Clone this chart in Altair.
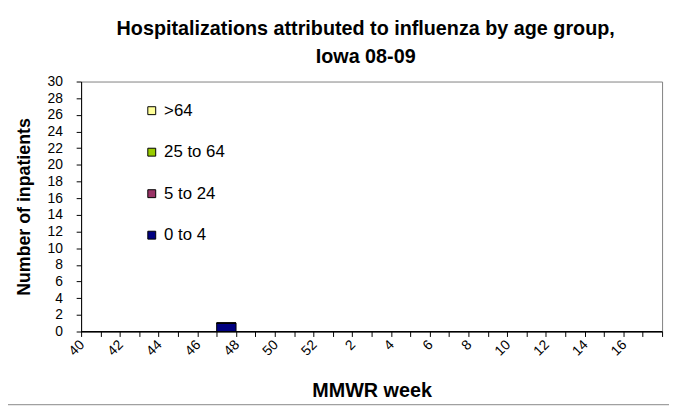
import altair as alt
import pandas as pd

weeks = [str(w) for w in list(range(40, 53)) + list(range(1, 18))]
groups = [">64", "25 to 64", "5 to 24", "0 to 4"]
colors = ["#FFFF99", "#99CC00", "#993366", "#000080"]
# inpatients per week, per age group
age_0_4 = [0, 0, 0, 0, 0, 0, 0, 1, 0, 0, 0, 0, 0, 0, 0,
           0, 0, 0, 0, 0, 0, 0, 0, 0, 0, 0, 0, 0, 0, 0]
age_5_24 = [0] * 30
age_25_64 = [0] * 30
age_65_up = [0] * 30

series = {"0 to 4": age_0_4, "5 to 24": age_5_24, "25 to 64": age_25_64, ">64": age_65_up}
stack_rank = {"0 to 4": 0, "5 to 24": 1, "25 to 64": 2, ">64": 3}
rows = []
for g, vals in series.items():
    for w, v in zip(weeks, vals):
        rows.append({"week": w, "group": g, "count": v, "rank": stack_rank[g]})
df = pd.DataFrame(rows)

font = "Liberation Sans"

bars = alt.Chart(df).mark_bar(stroke="black", strokeWidth=1, width={"band": 1}).encode(
    x=alt.X("week:N", sort=weeks, scale=alt.Scale(paddingInner=0, paddingOuter=0),
            axis=alt.Axis(title="MMWR week", labelAngle=-45, labelAlign="right", labelBaseline="middle",
                          labelExpr="toNumber(datum.value) % 2 == 0 ? datum.value : ''",
                          ticks=True, tickBand="extent", labelOffset=-9, labelPadding=6,
                          labelFontSize=14, titleFontSize=20, titleFontWeight="bold",
                          titlePadding=23, labelOverlap=False)),
    y=alt.Y("count:Q", stack="zero", scale=alt.Scale(domain=[0, 30], nice=False),
            axis=alt.Axis(title="Number of inpatients", values=list(range(0, 31, 2)),
                          ticks=True, labelFontSize=14, labelPadding=14, titleFontSize=18,
                          titleFontWeight="bold", titlePadding=14, grid=False)),
    color=alt.Color("group:N", scale=alt.Scale(domain=groups, range=colors),
                    legend=alt.Legend(title=None, orient="none", legendX=63, legendY=21,
                                      symbolType="square", symbolSize=64, symbolStrokeColor="black",
                                      symbolStrokeWidth=1, labelFontSize=17, rowPadding=24,
                                      padding=0, labelOffset=4)),
    order=alt.Order("rank:Q"),
)

one = pd.DataFrame({"k": [0]})
frame_bottom = alt.Chart(one).mark_rule(color="#A0A0A0", strokeWidth=1.5).encode(
    x=alt.value(-75.5), x2=alt.value(640), y=alt.value(327))

chart = alt.layer(frame_bottom, bars).properties(
    width=588, height=253,
    title=alt.TitleParams(["Hospitalizations attributed to influenza by age group,", "Iowa 08-09"],
                          fontSize=20, fontWeight="bold", lineHeight=28, offset=8, anchor="middle",
                          dx=-6, font=font, color="black"),
    autosize=alt.AutoSizeParams(type="none"),
    padding={"left": 74, "top": 72, "right": 7, "bottom": 76},
).configure(font=font).configure_view(stroke="#808080", strokeWidth=1).configure_axis(
    domainColor="black", tickColor="black", labelColor="black", titleColor="black",
    tickSize=5, tickWidth=1, labelFont=font, titleFont=font, domainWidth=1
).configure_legend(labelFont=font, labelColor="black")

chart.save("out.html", embed_options={"renderer": "svg", "actions": False})
